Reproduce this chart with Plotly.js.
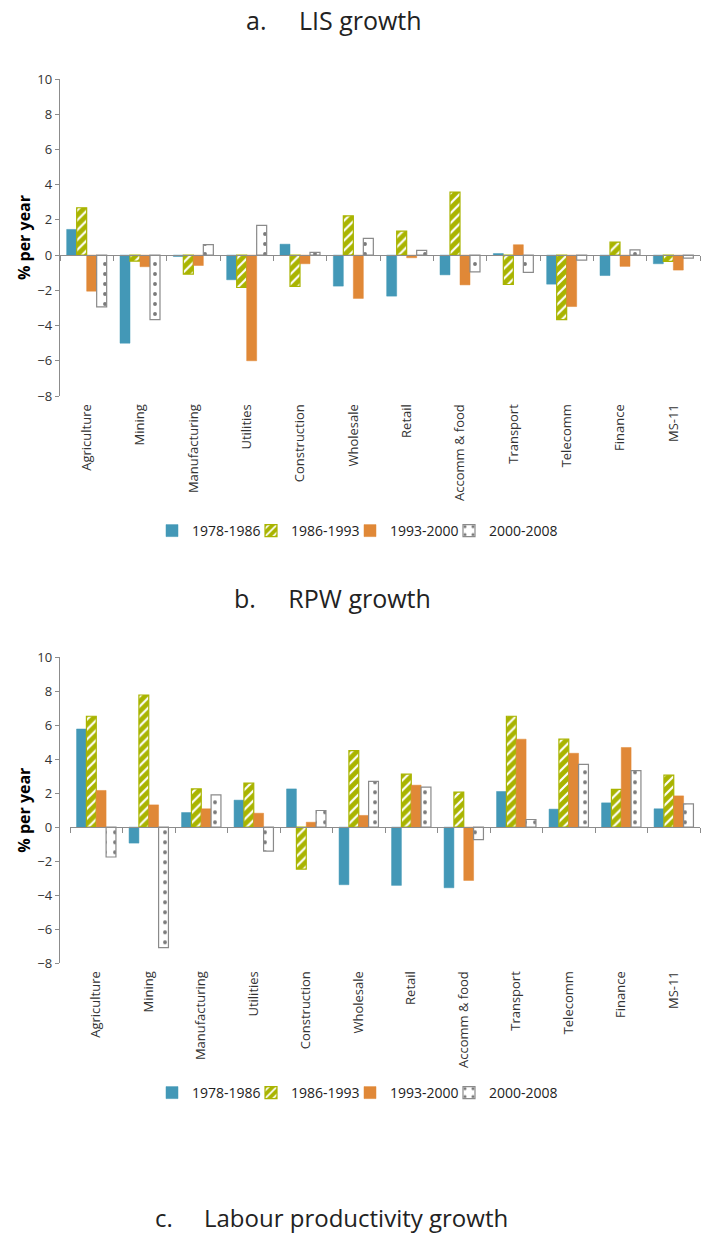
<!DOCTYPE html>
<html>
<head>
<meta charset="utf-8">
<script src="https://cdn.plot.ly/plotly-3.0.1.min.js"></script>
<style>html,body{margin:0;padding:0;background:#fff;}#chart{width:709px;height:1236px;}</style>
</head>
<body>
<div id="chart"></div>
<script>
const categories = ["Agriculture","Mining","Manufacturing","Utilities","Construction","Wholesale","Retail","Accomm & food","Transport","Telecomm","Finance","MS-11"];
const periods = ["1978-1986","1986-1993","1993-2000","2000-2008"];

// Panel a: LIS growth (% per year)
const lis_7886 = [1.46,-5.0,-0.08,-1.40,0.62,-1.76,-2.33,-1.12,0.09,-1.65,-1.16,-0.49];
const lis_8693 = [2.69,-0.34,-1.08,-1.84,-1.78,2.23,1.36,3.58,-1.67,-3.66,0.74,-0.36];
const lis_9300 = [-2.05,-0.66,-0.59,-6.0,-0.49,-2.46,-0.15,-1.69,0.59,-2.92,-0.64,-0.85];
const lis_0008 = [-2.94,-3.66,0.60,1.69,0.15,0.95,0.27,-0.95,-0.98,-0.28,0.30,-0.17];

// Panel b: RPW growth (% per year)
const rpw_7886 = [5.78,-0.94,0.86,1.59,2.25,-3.39,-3.43,-3.57,2.10,1.06,1.43,1.08];
const rpw_8693 = [6.53,7.78,2.25,2.59,-2.47,4.51,3.12,2.06,6.53,5.18,2.22,3.06];
const rpw_9300 = [2.16,1.31,1.08,0.82,0.29,0.69,2.47,-3.14,5.18,4.35,4.69,1.84];
const rpw_0008 = [-1.76,-7.1,1.90,-1.41,0.98,2.69,2.35,-0.73,0.45,3.69,3.33,1.37];

const SP = "&nbsp;&nbsp;&nbsp;&nbsp;&nbsp;";
const titles = ["a." + SP + "LIS growth","b." + SP + "RPW growth","c." + SP + "Labour productivity growth"];
const yTitle = "% per year";
const yTicks = [-8,-6,-4,-2,0,2,4,6,8,10];

const FONT = "'Open Sans', Lato, sans-serif";
const BLUE = "#4398b7", GREEN = "#a9b400", ORANGE = "#e08837", GREY = "#8a8a8a";

function styleFor(i){
  if(i===0) return {color:BLUE, line:{color:BLUE,width:0.5}};
  if(i===1) return {color:GREEN, line:{color:GREEN,width:1.2}, pattern:{shape:"/", fillmode:"replace", bgcolor:GREEN, fgcolor:"#ffffff", size:7, solidity:0.3}};
  if(i===2) return {color:ORANGE, line:{color:ORANGE,width:0.5}};
  return {color:"#ffffff", line:{color:GREY,width:1.2}, pattern:{shape:".", fillmode:"replace", fgcolor:"#7a7a7a", bgcolor:"#ffffff", size:10, solidity:0.12}};
}

const seriesA = [lis_7886, lis_8693, lis_9300, lis_0008];
const seriesB = [rpw_7886, rpw_8693, rpw_9300, rpw_0008];
const traces = [];
seriesA.forEach((vals,i)=>{
  traces.push({type:"bar", x:categories, y:vals, name:periods[i], xaxis:"x", yaxis:"y", legend:"legend", marker:styleFor(i), hoverinfo:"none"});
});
seriesB.forEach((vals,i)=>{
  traces.push({type:"bar", x:categories, y:vals, name:periods[i], xaxis:"x2", yaxis:"y2", legend:"legend2", marker:styleFor(i), hoverinfo:"none"});
});
// blank spacer entries so the last legend label is not clipped
traces.push({type:"scatter", x:[categories[0]], y:[0], mode:"none", name:" ", xaxis:"x", yaxis:"y", legend:"legend", showlegend:true, hoverinfo:"none"});
traces.push({type:"scatter", x:[categories[0]], y:[0], mode:"none", name:" ", xaxis:"x2", yaxis:"y2", legend:"legend2", showlegend:true, hoverinfo:"none"});

const H = 1236, W = 709;
const fy = px => (H - px)/H;
const fx = px => px/W;

const yMin = -8, yMax = 10;
const aTop = 79, aBot = 396, bTop = 657.3, bBot = 963;
const zeroA = fy(aBot) + (fy(aTop)-fy(aBot))*(0 - yMin)/(yMax - yMin);
const zeroB = fy(bBot) + (fy(bTop)-fy(bBot))*(0 - yMin)/(yMax - yMin);

const tickFont = {family:FONT, size:13, color:"#333"};
const idx = categories.map((c,i)=>i);

function zeroAxis(domain, pos){
  return {domain:domain, type:"category", anchor:"free", position:pos,
    showline:true, linecolor:"#8c8c8c", linewidth:1.3, ticks:"outside", tickson:"boundaries",
    ticklen:5, tickcolor:"#8c8c8c", showticklabels:false, showgrid:false, zeroline:false,
    range:[-0.5, categories.length-0.5], fixedrange:true};
}
function labelAxis(over, yname){
  return {overlaying:over, anchor:yname, side:"bottom", type:"linear", range:[-0.5, categories.length-0.5],
    tickmode:"array", tickvals:idx, ticktext:categories, tickangle:-90, showline:false, showgrid:false,
    zeroline:false, ticks:"outside", ticklen:2, tickcolor:"rgba(0,0,0,0)", tickfont:tickFont, fixedrange:true};
}
function yAxis(domain){
  return {domain:domain, range:[yMin,yMax], tickmode:"array", tickvals:yTicks, showgrid:false, zeroline:false,
    showline:true, linecolor:"#8c8c8c", linewidth:1.3, ticks:"outside", ticklen:4, tickcolor:"#8c8c8c",
    tickfont:tickFont, automargin:false, fixedrange:true,
    title:{text:yTitle, font:{family:FONT, size:16, color:"#000", weight:"bold"}, standoff:2}};
}

const legendBase = {orientation:"h", xanchor:"left", yanchor:"middle", font:{family:FONT,size:14,color:"#222"},
  itemwidth:30, tracegroupgap:0, traceorder:"normal", entrywidth:54, entrywidthmode:"pixels"};

const layout = {
  width:W, height:H, margin:{l:0,r:0,t:0,b:0}, paper_bgcolor:"#fff", plot_bgcolor:"#fff",
  barmode:"group", bargap:0.25, bargroupgap:0,
  font:{family:FONT, color:"#333"},
  showlegend:true,
  xaxis: zeroAxis([fx(60), fx(700)], zeroA),
  xaxis3: labelAxis("x", "y"),
  yaxis: yAxis([fy(aBot), fy(aTop)]),
  xaxis2: zeroAxis([fx(70), fx(700)], zeroB),
  xaxis4: labelAxis("x2", "y2"),
  yaxis2: yAxis([fy(bBot), fy(bTop)]),
  legend: Object.assign({}, legendBase, {x:fx(152), y:fy(531)}),
  legend2: Object.assign({}, legendBase, {x:fx(152), y:fy(1093)}),
  annotations:[
    {text:titles[0], xref:"paper", yref:"paper", x:fx(334), y:fy(20), xanchor:"center", yanchor:"middle", showarrow:false, font:{family:FONT,size:25,color:"#222"}},
    {text:titles[1], xref:"paper", yref:"paper", x:fx(332), y:fy(598), xanchor:"center", yanchor:"middle", showarrow:false, font:{family:FONT,size:25,color:"#222"}},
    {text:titles[2], xref:"paper", yref:"paper", x:fx(331), y:fy(1217), xanchor:"center", yanchor:"middle", showarrow:false, font:{family:FONT,size:24,color:"#222"}}
  ]
};
traces.push({type:"scatter", x:[0], y:[0], xaxis:"x3", yaxis:"y", mode:"markers", marker:{opacity:0}, showlegend:false, hoverinfo:"none"});
traces.push({type:"scatter", x:[0], y:[0], xaxis:"x4", yaxis:"y2", mode:"markers", marker:{opacity:0}, showlegend:false, hoverinfo:"none"});

Plotly.newPlot("chart", traces, layout, {staticPlot:true, displayModeBar:false});
</script>
</body>
</html>
